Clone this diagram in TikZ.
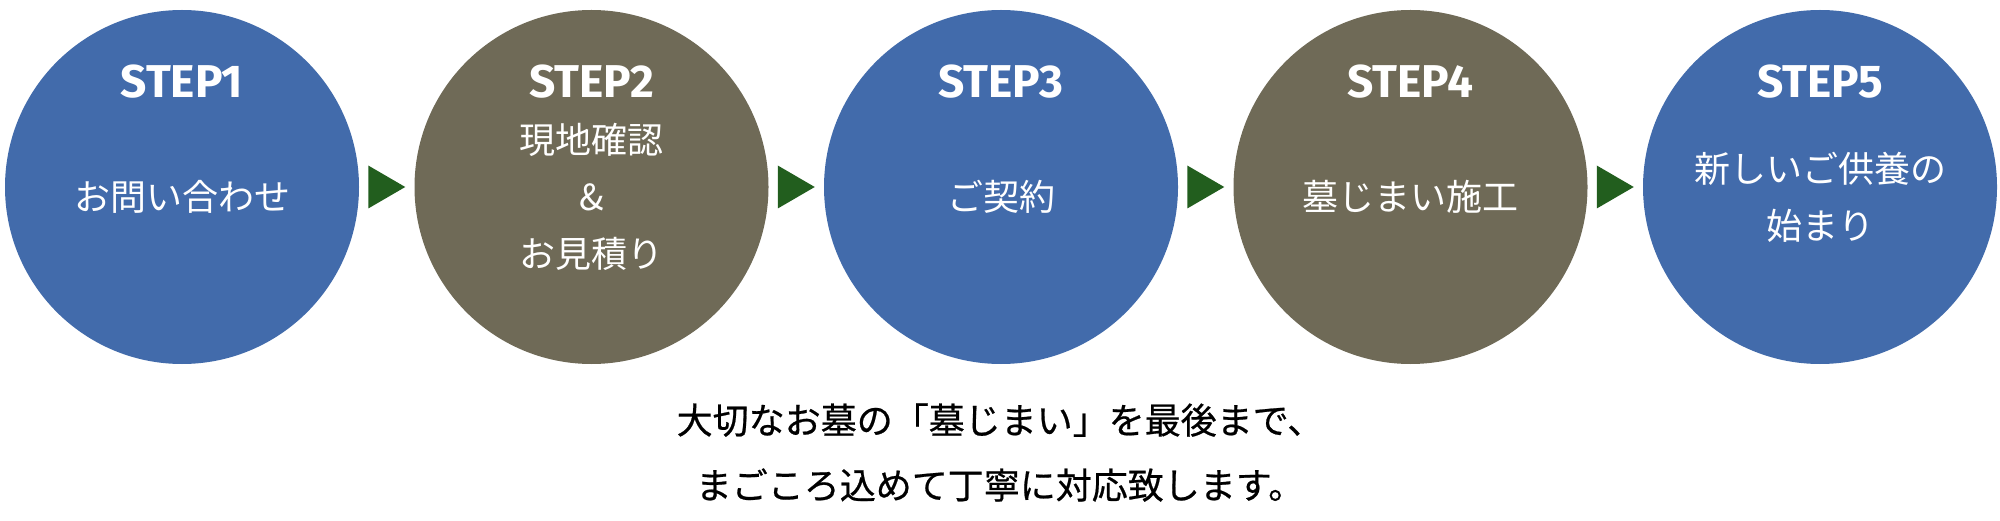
\documentclass[tikz,border=0pt]{standalone}
\usepackage{fontspec}
\setmainfont{Noto Sans CJK JP}
\newfontfamily\stepfont{Fira Sans}
\newfontfamily\notefont[FakeBold=0.6]{Noto Sans CJK JP}
\usetikzlibrary{calc}

\definecolor{stepblue}{HTML}{426BAB}
\definecolor{stepbrown}{HTML}{6F6A57}
\definecolor{arrowgreen}{HTML}{225E1E}

\begin{document}
\begin{tikzpicture}[
    x=0.5pt,
    y=0.5pt,
    stepcirc/.style={circle, minimum size=177pt, inner sep=0pt},
    steplabel/.style={text=white, font=\stepfont\bfseries\fontsize{23}{23}\selectfont},
    steptext/.style={text=white, align=center, font=\fontsize{18}{28.5}\selectfont},
    notetext/.style={text=black, align=center, font=\notefont\fontsize{18}{32.5}\selectfont}
]
    \useasboundingbox (0,0) rectangle (2000,520);
    % the five steps
    \foreach \i/\x/\col in {1/182/stepblue, 2/591.5/stepbrown, 3/1001/stepblue, 4/1410.5/stepbrown, 5/1820/stepblue} {
        \node[stepcirc, fill=\col] (c\i) at (\x,333) {};
        \node[steplabel] (s\i) at ([yshift=52.5pt]c\i.center) {STEP\i};
    }
    \node[steptext] (t1) at ([yshift=-5pt]c1.center) {お問い合わせ};
    \node[steptext] (t2) at ([yshift=-5pt]c2.center) {現地確認\\\&\\お見積り};
    \node[steptext] (t3) at ([yshift=-5pt]c3.center) {ご契約};
    \node[steptext] (t4) at ([yshift=-5pt]c4.center) {墓じまい施工};
    \node[steptext] (t5) at ([yshift=-5pt]c5.center) {新しいご供養の\\始まり};
    % arrows between the steps
    \foreach \a/\b in {c1/c2, c2/c3, c3/c4, c4/c5}
        \fill[arrowgreen] ($(\a.east)!0.5!(\b.west)$) ++(-18.5,21.5) -- ++(37,-21.5) -- ++(-37,-21.5) -- cycle;
    \node[notetext] (note) at (1000,67.5) {大切なお墓の「墓じまい」を最後まで、\\まごころ込めて丁寧に対応致します。};
\end{tikzpicture}
\end{document}
